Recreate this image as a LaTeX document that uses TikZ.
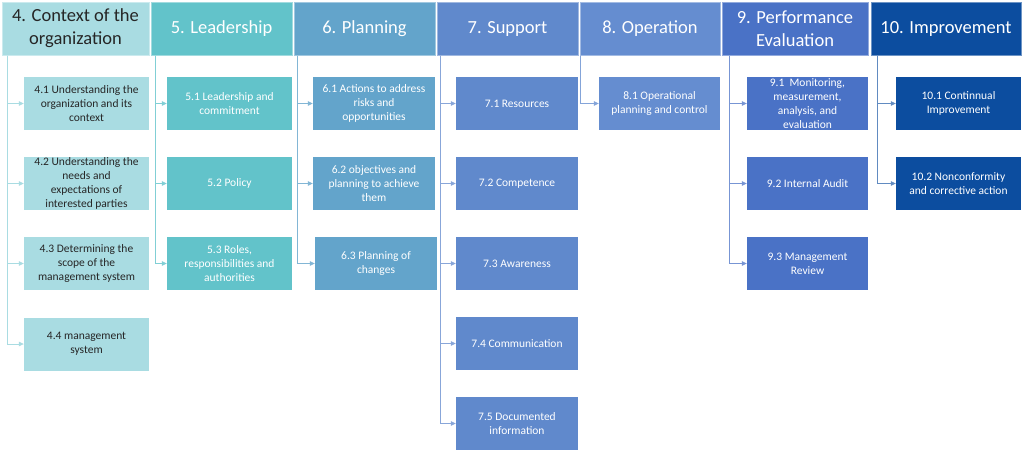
\documentclass[tikz,border=0pt]{standalone}
\usepackage{fontspec}
\setmainfont{Carlito}
\usetikzlibrary{arrows.meta}
\definecolor{cA}{HTML}{A9DCE2}
\definecolor{cB}{HTML}{62C3CA}
\definecolor{cC}{HTML}{63A4CB}
\definecolor{cD}{HTML}{6089CC}
\definecolor{cE}{HTML}{658DD0}
\definecolor{cF}{HTML}{4A72C6}
\definecolor{cG}{HTML}{0C4D9F}
\tikzset{
  hdr/.style={rectangle, inner sep=0pt, minimum height=53pt, align=center,
    font=\fontsize{18.5}{23}\selectfont, text=white},
  sub/.style={rectangle, inner sep=0pt, minimum height=53pt, minimum width=124pt, align=center,
    font=\fontsize{11.5}{14}\selectfont, text=white},
  conn/.style={line width=0.8pt, -{Triangle[length=5pt,width=4.5pt]}},
}
\begin{document}
\begin{tikzpicture}[x=1pt,y=-1pt]
\useasboundingbox (0,0) rectangle (1024,451);
\fill[white] (0,0) rectangle (1024,451);
% headers
\node[hdr, fill=cA, draw=cA!60!white, minimum width=147pt, text=black!85] (h4) at (75.5,28.5) {4. Context of the\\organization};
\node[hdr, fill=cB, draw=cB!60!white, minimum width=141pt] (h5) at (221.5,28.5) {5. Leadership};
\node[hdr, fill=cC, draw=cC!60!white, minimum width=141pt] (h6) at (364.5,28.5) {6. Planning};
\node[hdr, fill=cD, draw=cD!60!white, minimum width=141pt] (h7) at (507.5,28.5) {7. Support};
\node[hdr, fill=cE, draw=cE!60!white, minimum width=140pt] (h8) at (650,28.5) {8. Operation};
\node[hdr, fill=cF, draw=cF!60!white, minimum width=146pt] (h9) at (795,28.5) {9. Performance\\Evaluation};
\node[hdr, fill=cG, draw=cG!60!white, minimum width=150pt] (h10) at (946,28.5) {10. Improvement};
% column 4
\node[sub, fill=cA, text=black!85, minimum width=125pt] (c41) at (86.5,103.5) {4.1 Understanding the\\organization and its\\context};
\node[sub, fill=cA, text=black!85, minimum width=125pt] (c42) at (86.5,183.5) {4.2 Understanding the\\needs and\\expectations of\\interested parties};
\node[sub, fill=cA, text=black!85, minimum width=125pt] (c43) at (86.5,263.5) {4.3 Determining the\\scope of the\\management system};
\node[sub, fill=cA, text=black!85, minimum width=125pt] (c44) at (86.5,344) {4.4 management\\system};
% column 5
\node[sub, fill=cB, minimum width=125pt] (c51) at (229.5,103.5) {5.1 Leadership and\\commitment};
\node[sub, fill=cB, minimum width=125pt] (c52) at (229.5,183.5) {5.2 Policy};
\node[sub, fill=cB, minimum width=125pt] (c53) at (229.5,263.5) {5.3 Roles,\\responsibilities and\\authorities};
% column 6
\node[sub, fill=cC, minimum width=122pt] (c61) at (374,103.5) {6.1 Actions to address\\risks and\\opportunities};
\node[sub, fill=cC, minimum width=122pt] (c62) at (374,183.5) {6.2 objectives and\\planning to achieve\\them};
\node[sub, fill=cC, minimum width=122pt] (c63) at (376,263.5) {6.3 Planning of\\changes};
% column 7
\node[sub, fill=cD, minimum width=122pt] (c71) at (517,103.5) {7.1 Resources};
\node[sub, fill=cD, minimum width=122pt] (c72) at (517,183.5) {7.2 Competence};
\node[sub, fill=cD, minimum width=122pt] (c73) at (517,263.5) {7.3 Awareness};
\node[sub, fill=cD, minimum width=122pt] (c74) at (517,343.5) {7.4 Communication};
\node[sub, fill=cD, minimum width=122pt] (c75) at (517,423.5) {7.5 Documented\\information};
% column 8
\node[sub, fill=cE, minimum width=121pt] (c81) at (659.5,103.5) {8.1 Operational\\planning and control};
% column 9
\node[sub, fill=cF, minimum width=121pt] (c91) at (807.5,103.5) {9.1 \ Monitoring,\\measurement,\\analysis, and\\evaluation};
\node[sub, fill=cF, minimum width=121pt] (c92) at (807.5,183.5) {9.2 Internal Audit};
\node[sub, fill=cF, minimum width=121pt] (c93) at (807.5,263.5) {9.3 Management\\Review};
% column 10
\node[sub, fill=cG, minimum width=125pt] (c101) at (958.5,103.5) {10.1 Continnual\\Improvement};
\node[sub, fill=cG, minimum width=125pt] (c102) at (958.5,183.5) {10.2 Nonconformity\\and corrective action};
% trunk coordinates
\coordinate (v4) at (7,55.5);
\coordinate (v5) at (155,55.5);
\coordinate (v6) at (297,55.5);
\coordinate (v7) at (440,55.5);
\coordinate (v8) at (580,55.5);
\coordinate (v9) at (729,55.5);
\coordinate (v10) at (877,55.5);
% connectors
\foreach \n in {c41,c42,c43,c44} \draw[conn, draw=cA] (v4) |- (\n.west);
\foreach \n in {c51,c52,c53} \draw[conn, draw=cB!80!white] (v5) |- (\n.west);
\foreach \n in {c61,c62,c63} \draw[conn, draw=cC!80!white] (v6) |- (\n.west);
\foreach \n in {c71,c72,c73,c74,c75} \draw[conn, draw=cD!75!white] (v7) |- (\n.west);
\draw[conn, draw=cE!80!white] (v8) |- (c81.west);
\foreach \n in {c91,c92,c93} \draw[conn, draw=cF!75!white] (v9) |- (\n.west);
\foreach \n in {c101,c102} \draw[conn, draw=cG!65!white] (v10) |- (\n.west);
\end{tikzpicture}
\end{document}
